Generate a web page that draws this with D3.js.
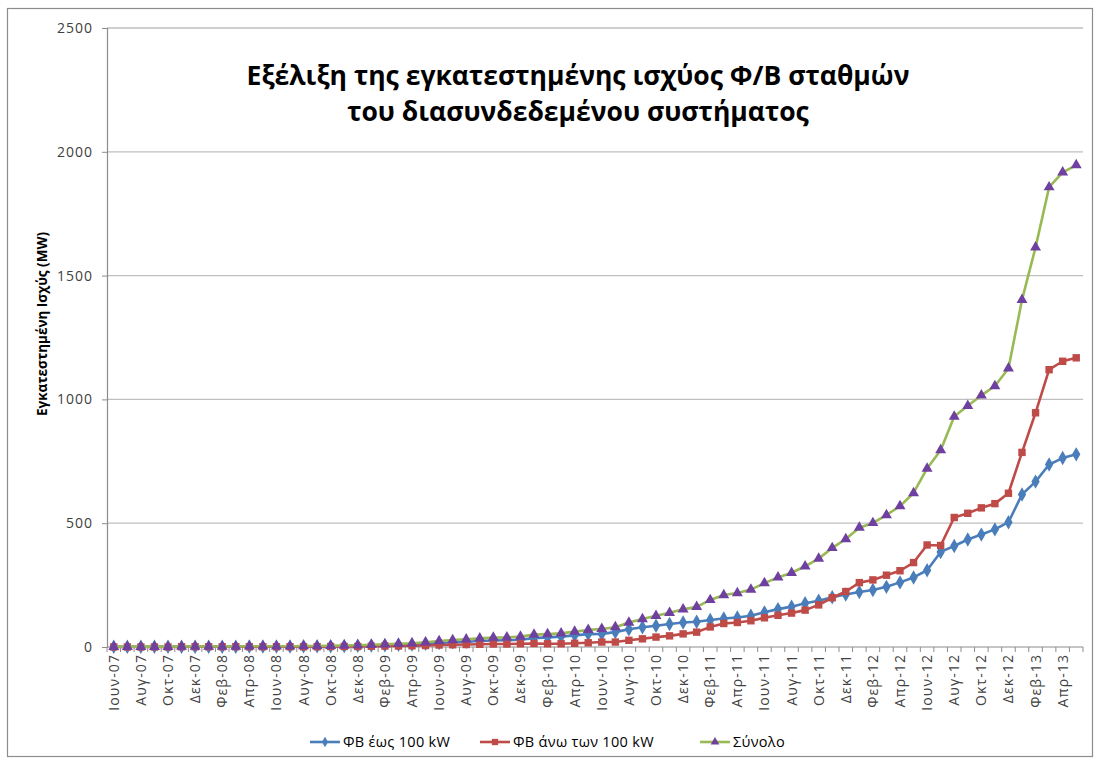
<!DOCTYPE html>
<html><head><meta charset="utf-8">
<script src="https://cdn.jsdelivr.net/npm/d3@7"></script>
<style>
html,body{margin:0;padding:0;background:#fff;}
text{font-family:"Open Sans","Noto Sans",sans-serif;}
</style></head>
<body><svg id="chart" width="1099" height="762"></svg>
<script>
// ---------- DATA ----------
const monthNames = ["Ιαν","Φεβ","Μαρ","Απρ","Μαΐ","Ιουν","Ιουλ","Αυγ","Σεπ","Οκτ","Νοε","Δεκ"];
// Months from June 2007 to May 2013
const categories = [];
for (let y = 2007; y <= 2013; y++) {
  for (let m = 0; m < 12; m++) {
    if (y === 2007 && m < 5) continue;
    if (y === 2013 && m > 4) continue;
    categories.push(monthNames[m] + "-" + String(y).slice(2));
  }
}
const seriesSmall = [ // ΦΒ έως 100 kW
  1,1,1,1,1,1,1,1,1,1,2,2,2,2,3,3,3,4,5,6,7,9,10,13,16,19,21,24,26,27,29,36,39,42,47,52,
  53,60,72,80,86,93,99,102,109,115,119,126,140,153,163,177,187,201,212,222,230,243,261,281,
  310,384,408,434,454,475,504,616,668,737,763,778];
const seriesLarge = [ // ΦΒ άνω των 100 kW
  0,0,0,0,0,1,1,1,1,1,1,1,1,1,1,1,2,2,2,3,4,4,5,6,8,9,10,11,12,12,13,14,13,13,15,17,
  20,20,27,33,40,45,53,60,81,95,99,106,118,128,137,149,170,199,224,260,271,290,308,341,
  412,410,523,540,562,579,621,786,946,1120,1154,1168];
const seriesTotal = [ // Σύνολο
  1,1,1,1,1,2,2,2,2,2,3,3,3,3,4,4,5,6,7,9,11,13,15,19,24,28,31,35,38,39,42,50,52,55,62,69,
  73,80,99,113,126,138,152,162,190,210,218,232,258,281,300,326,357,400,436,482,501,533,569,622,
  721,795,931,974,1016,1054,1125,1402,1614,1857,1917,1946];
const yTicks = [0, 500, 1000, 1500, 2000, 2500];
const seriesNames = ["ΦΒ έως 100 kW", "ΦΒ άνω των 100 kW", "Σύνολο"];
const titleLines = ["Εξέλιξη της εγκατεστημένης ισχύος Φ/Β σταθμών", "του διασυνδεδεμένου συστήματος"];
const yTitle = "Εγκατεστημένη Ισχύς (MW)";

// ---------- LAYOUT ----------
const svg = d3.select("#chart");
const L = 107, R = 1083, T = 28, B = 647;
const x = d3.scaleBand().domain(categories).range([L, R]).paddingInner(0).paddingOuter(0);
const cx = d => x(d) + x.bandwidth() / 2;
const y = d3.scaleLinear().domain([0, 2500]).range([B, T]);

// outer border
svg.append("rect").attr("x", 7.5).attr("y", 8.5).attr("width", 1085).attr("height", 748)
  .attr("fill", "#fff").attr("stroke", "#8c8c8c").attr("stroke-width", 1.2);

// gridlines
svg.append("g").selectAll("line").data(yTicks.filter(v => v > 0)).join("line")
  .attr("x1", L).attr("x2", R).attr("y1", d => y(d)).attr("y2", d => y(d))
  .attr("stroke", "#bfbfbf").attr("stroke-width", 1.3);

// y axis
const yAxis = svg.append("g").attr("transform", `translate(${L},0)`)
  .call(d3.axisLeft(y).tickValues(yTicks).tickSize(5).tickPadding(9).tickFormat(d3.format("d")));
yAxis.select(".domain").attr("stroke", "#8c8c8c").attr("stroke-width", 1.2);
yAxis.selectAll(".tick line").attr("stroke", "#8c8c8c");
yAxis.selectAll("text").attr("font-size", 14).attr("letter-spacing", 1).attr("fill", "#404040");

// x axis
const xAxisG = svg.append("g").attr("transform", `translate(0,${B})`);
xAxisG.append("line").attr("x1", L).attr("x2", R).attr("y1", 0).attr("y2", 0)
  .attr("stroke", "#8c8c8c").attr("stroke-width", 1.2);
const bounds = categories.map(c => x(c)).concat([R]);
xAxisG.selectAll("line.tk").data(bounds).join("line").attr("class", "tk")
  .attr("x1", d => d).attr("x2", d => d).attr("y1", 0).attr("y2", 5)
  .attr("stroke", "#8c8c8c").attr("stroke-width", 1);
const labelCats = categories.filter((c, i) => i % 2 === 0);
const xAxis = d3.axisBottom(x).tickValues(labelCats).tickSize(0).tickPadding(0);
const xl = svg.append("g").attr("transform", `translate(0,${B})`).call(xAxis);
xl.select(".domain").remove();
xl.selectAll("text")
  .attr("font-size", 14).attr("letter-spacing", 1.1).attr("fill", "#404040")
  .attr("transform", "rotate(-90)")
  .attr("text-anchor", "end").attr("x", -7).attr("y", 0).attr("dy", "0.36em");

// series
const series = [
  {name: seriesNames[0], values: seriesSmall, line: "#4a7ebb", marker: "#4a7ebb", shape: d3.symbolDiamond, size: 60},
  {name: seriesNames[1], values: seriesLarge, line: "#be4b48", marker: "#be4b48", shape: d3.symbolSquare, size: 55},
  {name: seriesNames[2], values: seriesTotal, line: "#98b954", marker: "#7040a0", shape: d3.symbolTriangle, size: 52}
];
const lineGen = d3.line().x((d, i) => cx(categories[i])).y(d => y(d));
series.forEach(s => {
  const g = svg.append("g");
  g.append("path").attr("d", lineGen(s.values)).attr("fill", "none")
    .attr("stroke", s.line).attr("stroke-width", 2.6).attr("stroke-linejoin", "round");
  g.selectAll("path.m").data(s.values).join("path").attr("class", "m")
    .attr("d", d3.symbol().type(s.shape).size(s.size))
    .attr("transform", (d, i) => `translate(${cx(categories[i])},${y(d)})`)
    .attr("fill", s.marker);
});

// title
svg.append("text").attr("x", 578).attr("y", 85).attr("text-anchor", "middle")
  .attr("font-size", 26.5).attr("font-weight", "bold").attr("fill", "#000").text(titleLines[0]);
svg.append("text").attr("x", 578).attr("y", 121).attr("text-anchor", "middle")
  .attr("font-size", 26.5).attr("font-weight", "bold").attr("fill", "#000").text(titleLines[1]);

// y title
svg.append("text").attr("transform", "translate(47,324) rotate(-90)")
  .attr("text-anchor", "middle").attr("font-size", 13.5).attr("font-weight", "bold")
  .attr("fill", "#000").text(yTitle);

// legend
const legendX = [310, 480, 700];
const lg = svg.append("g");
series.forEach((s, i) => {
  const gx = legendX[i], gy = 742;
  lg.append("line").attr("x1", gx).attr("x2", gx + 30).attr("y1", gy).attr("y2", gy)
    .attr("stroke", s.line).attr("stroke-width", 2.6);
  lg.append("path").attr("d", d3.symbol().type(s.shape).size(i === 1 ? 40 : 32))
    .attr("transform", `translate(${gx + 15},${gy})`).attr("fill", s.marker);
  lg.append("text").attr("x", gx + 33).attr("y", gy).attr("dy", "0.35em")
    .attr("font-size", 14.5).attr("letter-spacing", 0.3).attr("fill", "#000").text(s.name);
});
</script></body></html>
